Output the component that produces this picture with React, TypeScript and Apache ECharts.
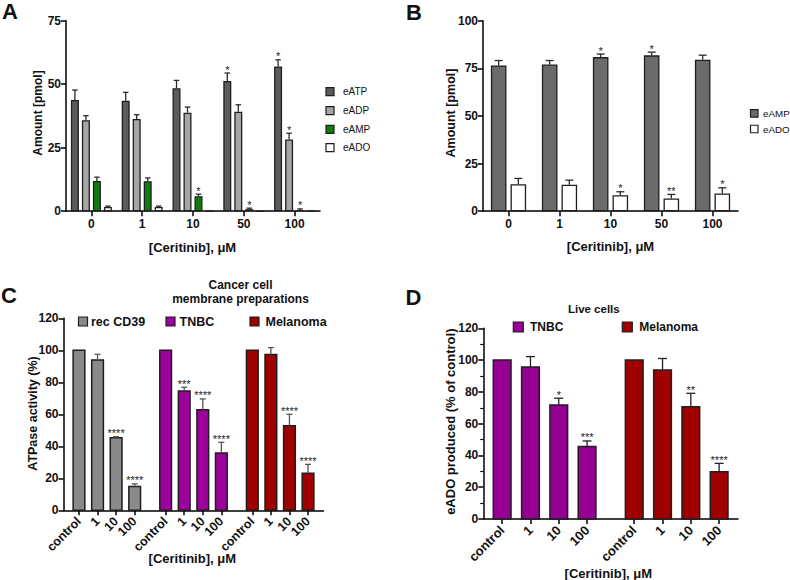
import React, { useEffect, useRef } from 'react';
import * as echarts from 'echarts';

const FONT = '"Liberation Sans", Arial, Helvetica, sans-serif';

// ---------- Panel A ----------
const catsA = ['0', '1', '10', '50', '100'];
const namesA = ['eATP', 'eADP', 'eAMP', 'eADO'];
const eATP = [43.8, 43.5, 48.4, 51.3, 57.0];
const eATPErr = [3.9, 3.3, 3.1, 3.1, 2.6];
const eADP = [35.8, 36.3, 38.8, 39.2, 28.2];
const eADPErr = [1.8, 1.7, 2.2, 2.7, 2.5];
const eAMP = [11.9, 11.8, 5.9, 0.8, 0.4];
const eAMPErr = [1.5, 1.3, 0.8, 0.4, 0.5];
const eADO = [1.7, 1.7, 0, 0, 0];
const eADOErr = [0.3, 0.3, 0, 0, 0];
const starsATP = ['', '', '', '*', '*'];
const starsADP = ['', '', '', '', '*'];
const starsAMP = ['', '', '*', '*', '*'];
const starsADO = ['', '', '', '', ''];
const yTicksA = { min: 0, max: 75, interval: 25 };

// ---------- Panel B ----------
const catsB = ['0', '1', '10', '50', '100'];
const namesB = ['eAMP', 'eADO'];
const eAMPB = [76.5, 77.0, 80.9, 81.8, 79.5];
const eAMPBErr = [2.6, 2.1, 1.6, 1.7, 2.4];
const eADOB = [14.2, 13.9, 8.4, 6.7, 9.3];
const eADOBErr = [3.0, 2.4, 1.8, 2.1, 3.0];
const starsAMPB = ['', '', '*', '*', ''];
const starsADOB = ['', '', '*', '**', '*'];
const yTicksB = { min: 0, max: 100, interval: 25 };

// ---------- Panel C ----------
const catsC = ['control', '1', '10', '100'];
const groupsC = ['rec CD39', 'TNBC', 'Melanoma'];
const recC = [100, 94.0, 45.4, 14.8];
const recCErr = [0, 3.5, 0.6, 1.7];
const recCStars = ['', '', '****', '****'];
const tnbcC = [100, 74.6, 62.9, 35.8];
const tnbcCErr = [0, 2.3, 6.7, 6.7];
const tnbcCStars = ['', '***', '****', '****'];
const melC = [100, 97.3, 52.9, 23.1];
const melCErr = [0, 4.4, 7.1, 5.6];
const melCStars = ['', '', '****', '****'];
const yTicksC = { min: 0, max: 120, interval: 20 };

// ---------- Panel D ----------
const catsD = ['control', '1', '10', '100'];
const groupsD = ['TNBC', 'Melanoma'];
const tnbcD = [100, 95.7, 71.8, 45.7];
const tnbcDErr = [0, 6.5, 4.2, 3.4];
const tnbcDStars = ['', '', '*', '***'];
const melD = [100, 93.8, 70.7, 29.8];
const melDErr = [0, 7.2, 8.4, 5.2];
const melDStars = ['', '', '**', '****'];
const yTicksD = { min: 0, max: 120, interval: 20 };

// ---------- styles ----------
const colA = ['#5c5c5c', '#a6a6a6', '#0f7c0f', '#ffffff'];
const colB = ['#6b6b6b', '#ffffff'];
const colC = ['#8a8a8a', '#9e009e', '#a00000'];
const colD = ['#950092', '#a00000'];
const EDGE = '#1e1e1e';

function slotCats(total: number, starts: number[], labels: string[]) {
  const arr = Array.from({ length: total }, (_, i) => `gap${i}`);
  starts.forEach((s, g) => labels.forEach((l, j) => { arr[s + j * 3] = `${g}|${l}`; }));
  return arr;
}
const isReal = (v: string) => !String(v).startsWith('gap');
const slotLabel = (v: string) => (isReal(v) ? String(v).split('|')[1] : '');

function txt(text: string, x: number, y: number, font: string, opts: any = {}) {
  return {
    type: 'text', x, y, rotation: opts.rotation || 0, silent: true, z: 100,
    style: {
      text, x: 0, y: 0, font, fill: opts.fill || '#111',
      align: opts.align || 'center', verticalAlign: opts.va || 'middle',
      textAlign: opts.align || 'center', textVerticalAlign: opts.va || 'middle',
    },
  };
}
function sq(x: number, cy: number, s: number, color: string) {
  return { type: 'rect', silent: true, z: 100, shape: { x, y: cy - s / 2, width: s, height: s }, style: { fill: color, stroke: EDGE, lineWidth: 1.2 } };
}
function starText(st: string, x: number, y: number, font: string) {
  return { type: 'text', x, y, style: { text: st, x: 0, y: 0, font, fill: '#222', align: 'center', verticalAlign: 'bottom' } };
}

function errRender(barW: number, gap: number, n: number, capW: number, color: string, stars: string[], starFont: string) {
  return (params: any, api: any) => {
    const c = api.value(0), s = api.value(1), v = api.value(2), e = api.value(3);
    const off = (s - (n - 1) / 2) * (barW + gap);
    const p = api.coord([c, v]);
    const q = api.coord([c, v + e]);
    const x = p[0] + off;
    const children: any[] = [];
    if (e > 0) {
      children.push({ type: 'line', shape: { x1: x, y1: p[1], x2: x, y2: q[1] }, style: { stroke: color, lineWidth: 1.3, fill: null } });
      children.push({ type: 'line', shape: { x1: x - capW / 2, y1: q[1], x2: x + capW / 2, y2: q[1] }, style: { stroke: color, lineWidth: 1.3, fill: null } });
    }
    const st = stars[params.dataIndex];
    if (st) children.push(starText(st, x, q[1] + 2, starFont));
    return { type: 'group', children };
  };
}

function barRender(barW: number, capW: number, color: string, errColor: string, stars: string[], starFont: string) {
  return (params: any, api: any) => {
    const x = api.value(0), v = api.value(1), e = api.value(2);
    const base = api.coord([x, 0]);
    const top = api.coord([x, v]);
    const et = api.coord([x, v + e]);
    const cx = top[0];
    const children: any[] = [
      { type: 'rect', shape: { x: cx - barW / 2, y: top[1], width: barW, height: base[1] - top[1] }, style: { fill: color, stroke: EDGE, lineWidth: 1.5 } },
    ];
    if (e > 0) {
      children.push({ type: 'line', shape: { x1: cx, y1: top[1], x2: cx, y2: et[1] }, style: { stroke: errColor, lineWidth: 1.3, fill: null } });
      children.push({ type: 'line', shape: { x1: cx - capW / 2, y1: et[1], x2: cx + capW / 2, y2: et[1] }, style: { stroke: errColor, lineWidth: 1.3, fill: null } });
    }
    const st = stars[params.dataIndex];
    if (st) children.push(starText(st, cx, et[1] + 2, starFont));
    return { type: 'group', children };
  };
}

const axisLineStyle = { color: '#000', width: 1.5 };
function yAxis(gridIndex: number, t: any, minor = false) {
  return {
    gridIndex, type: 'value', min: t.min, max: t.max, interval: t.interval,
    axisLine: { show: true, lineStyle: axisLineStyle },
    axisTick: { show: true, length: 5, lineStyle: axisLineStyle },
    minorTick: { show: minor, splitNumber: 2, length: 3, lineStyle: { color: '#000', width: 1.2 } },
    splitLine: { show: false },
    axisLabel: { color: '#111', fontWeight: 'bold', fontSize: 12, fontFamily: FONT, margin: 5 },
  };
}

export default function App() {
  const ref = useRef<HTMLDivElement>(null);
  useEffect(() => {
    if (!ref.current) return;
    const chart = echarts.init(ref.current, undefined, { renderer: 'svg' });

    const valsA = [eATP, eADP, eAMP, eADO];
    const errsA = [eATPErr, eADPErr, eAMPErr, eADOErr];
    const starsA = [starsATP, starsADP, starsAMP, starsADO];
    const errDataA: number[][] = [];
    const starFlatA: string[] = [];
    valsA.forEach((vals, s) => vals.forEach((v, c) => { errDataA.push([c, s, v, errsA[s][c]]); starFlatA.push(starsA[s][c]); }));

    const valsB = [eAMPB, eADOB];
    const errsB = [eAMPBErr, eADOBErr];
    const starsB = [starsAMPB, starsADOB];
    const errDataB: number[][] = [];
    const starFlatB: string[] = [];
    valsB.forEach((vals, s) => vals.forEach((v, c) => { errDataB.push([c, s, v, errsB[s][c]]); starFlatB.push(starsB[s][c]); }));

    const startsC = [2, 16, 30];
    const slotsC = slotCats(42, startsC, catsC);
    const valsC = [recC, tnbcC, melC];
    const errsC = [recCErr, tnbcCErr, melCErr];
    const starsC = [recCStars, tnbcCStars, melCStars];

    const startsD = [2, 16];
    const slotsD = slotCats(28, startsD, catsD);
    const valsD = [tnbcD, melD];
    const errsD = [tnbcDErr, melDErr];
    const starsD = [tnbcDStars, melDStars];

    const starFont = `11px ${FONT}`;

    const xCat = (gridIndex: number, data: string[], labelOpts: any, slots: boolean, boundaryGap = true) => ({
      gridIndex, type: 'category', data, boundaryGap,
      axisLine: { show: true, lineStyle: axisLineStyle },
      axisTick: { show: true, alignWithLabel: true, length: 5, lineStyle: axisLineStyle, ...(slots ? { interval: (i: number, v: string) => isReal(v) } : {}) },
      axisLabel: {
        color: '#111', fontWeight: 'bold', fontSize: 12, fontFamily: FONT, ...labelOpts,
        ...(slots ? { interval: (i: number, v: string) => isReal(v), formatter: (v: string) => slotLabel(v) } : {}),
      },
      splitLine: { show: false },
    });

    const series: any[] = [];
    namesA.forEach((n, s) => series.push({
      type: 'bar', name: n, xAxisIndex: 0, yAxisIndex: 0, data: valsA[s], barWidth: 8, barGap: '37.5%',
      itemStyle: { color: colA[s], borderColor: EDGE, borderWidth: 1.3 }, silent: true,
    }));
    series.push({
      type: 'custom', xAxisIndex: 0, yAxisIndex: 0, data: errDataA, encode: { x: 0, y: 2 }, clip: false, z: 5, silent: true,
      itemStyle: { color: '#222' },
      renderItem: errRender(8, 3, 4, 5.5, '#2a2a2a', starFlatA, starFont),
    });
    namesB.forEach((n, s) => series.push({
      type: 'bar', name: n, xAxisIndex: 1, yAxisIndex: 1, data: valsB[s], barWidth: 15.6, barGap: '26%',
      itemStyle: { color: colB[s], borderColor: EDGE, borderWidth: 1.3 }, silent: true,
    }));
    series.push({
      type: 'custom', xAxisIndex: 1, yAxisIndex: 1, data: errDataB, encode: { x: 0, y: 2 }, clip: false, z: 5, silent: true,
      itemStyle: { color: '#222' },
      renderItem: errRender(15.6, 15.6 * 0.26, 2, 8, '#2a2a2a', starFlatB, starFont),
    });
    groupsC.forEach((g, gi) => series.push({
      type: 'custom', name: g, xAxisIndex: 2, yAxisIndex: 2, clip: false, silent: true,
      itemStyle: { color: colC[gi] },
      data: valsC[gi].map((v, j) => [startsC[gi] + j * 3, v, errsC[gi][j]]),
      encode: { x: 0, y: 1 },
      renderItem: barRender(11.7, 6, colC[gi], '#555', starsC[gi], starFont),
    }));
    groupsD.forEach((g, gi) => series.push({
      type: 'custom', name: g, xAxisIndex: 3, yAxisIndex: 3, clip: false, silent: true,
      itemStyle: { color: colD[gi] },
      data: valsD[gi].map((v, j) => [startsD[gi] + j * 3, v, errsD[gi][j]]),
      encode: { x: 0, y: 1 },
      renderItem: barRender(17.7, 9, colD[gi], '#222', starsD[gi], starFont),
    }));

    const bold = (px: number) => `bold ${px}px ${FONT}`;
    const reg = (px: number) => `${px}px ${FONT}`;
    const graphic: any[] = [
      txt('A', 10, 11.5, bold(22)),
      txt('B', 414, 12, bold(22)),
      txt('C', 9, 295, bold(22)),
      txt('D', 413.5, 297.5, bold(22)),
      txt('Amount [pmol]', 38, 113, bold(12), { rotation: Math.PI / 2 }),
      txt('[Ceritinib], μM', 192.5, 247, bold(13)),
      txt('Amount [pmol]', 451, 113, bold(12.5), { rotation: Math.PI / 2 }),
      txt('[Ceritinib], μM', 610.5, 246.7, bold(13)),
      txt('Cancer cell', 240.5, 285, bold(12)),
      txt('membrane preparations', 240.5, 299, bold(12)),
      txt('ATPase activity (%)', 32.5, 413.5, bold(12.5), { rotation: Math.PI / 2 }),
      txt('[Ceritinib], μM', 192.3, 558.3, bold(13)),
      txt('Live cells', 593.8, 309.3, bold(11.5)),
      txt('eADO produced (% of control)', 450, 421.7, bold(13), { rotation: Math.PI / 2 }),
      txt('[Ceritinib], μM', 608.3, 573.3, bold(13)),
    ];
    const legAy = [91.7, 110.7, 129.3, 147.7];
    namesA.forEach((n, i) => { graphic.push(sq(326, legAy[i], 8, colA[i])); graphic.push(txt(n, 343, legAy[i], reg(10), { align: 'left' })); });
    const legBy = [113.3, 129];
    namesB.forEach((n, i) => { graphic.push(sq(750.5, legBy[i], 7.5, colB[i])); graphic.push(txt(n, 763, legBy[i], reg(9.8), { align: 'left' })); });
    const legCx = [78.5, 166, 250];
    const legCt = [91, 179.5, 265.5];
    groupsC.forEach((n, i) => { graphic.push(sq(legCx[i], 321.5, 9, colC[i])); graphic.push(txt(n, legCt[i], 321.5, bold(12.5), { align: 'left' })); });
    const legDx = [513.3, 622.3];
    const legDt = [530, 639.3];
    groupsD.forEach((n, i) => { graphic.push(sq(legDx[i], 327, 10, colD[i])); graphic.push(txt(n, legDt[i], 327, bold(12), { align: 'left' })); });

    chart.setOption({
      animation: false,
      backgroundColor: '#ffffff',
      textStyle: { fontFamily: FONT },
      grid: [
        { left: 66, top: 20.7, width: 254, height: 190.5 },
        { left: 483, top: 20.7, width: 255, height: 190.5 },
        { left: 63.5, top: 318.3, width: 260, height: 192 },
        { left: 483.3, top: 328.3, width: 254.7, height: 190.7 },
      ],
      xAxis: [
        xCat(0, catsA, { margin: 7 }, false),
        xCat(1, catsB, { margin: 7 }, false),
        xCat(2, slotsC, { rotate: 45, margin: 9, fontSize: 12.5 }, true, true),
        xCat(3, slotsD, { rotate: 45, margin: 9, fontSize: 13 }, true, false),
      ],
      yAxis: [yAxis(0, yTicksA), yAxis(1, yTicksB), yAxis(2, yTicksC), yAxis(3, yTicksD, true)],
      series,
      graphic,
    });
    return () => chart.dispose();
  }, []);
  return <div ref={ref} style={{ position: 'absolute', left: 0, top: 0, width: 790, height: 580, background: '#fff' }} />;
}
